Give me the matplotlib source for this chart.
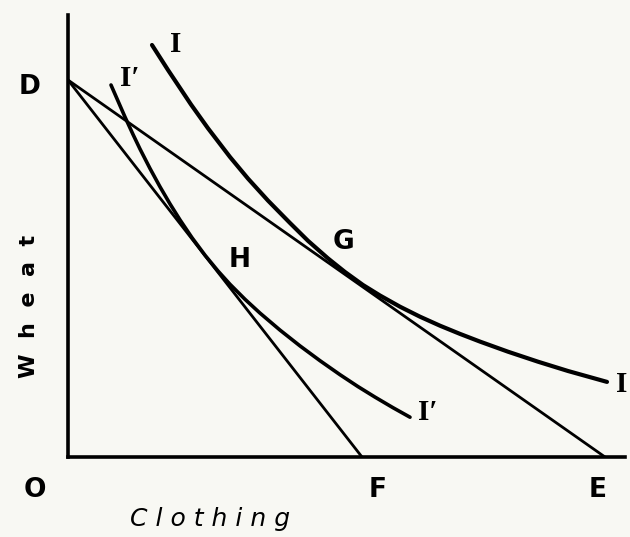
import matplotlib.pyplot as plt

# budget lines: D on the wheat axis, E and F on the clothing axis
d_wheat = 377
e_clothing = 537
f_clothing = 294

# indifference curve I (tangent to DE at G)
i_x = [84, 100, 123, 140, 162, 180, 200, 222, 240, 260, 277, 295, 312, 332,
       352, 372, 392, 412, 440, 470, 500, 539]
i_y = [412, 387, 352.5, 328.7, 300, 278.4, 256.4, 234, 216.2, 198.6, 185, 172,
       161.5, 150.3, 140.3, 131.3, 123.1, 115.4, 105.3, 95.3, 86, 75.1]

# indifference curve I' (tangent to DF at H)
ip_x = [43, 50, 57, 65, 72, 82, 92, 102, 112, 124, 137, 150, 162, 177, 192,
        212, 232, 252, 272, 290, 307, 325, 342]
ip_y = [372, 356, 340, 322.6, 308, 288.5, 270.2, 253.1, 237.1, 219.3, 201.8,
        186, 172.7, 157.7, 143.9, 126.9, 111.1, 96.3, 82.3, 70.4, 59.9, 49.3, 39.8]

bg = "#f8f8f3"
fig = plt.figure(figsize=(6.3, 5.37), dpi=100, facecolor=bg)
ax = fig.add_axes([68 / 630, 80 / 537, 557 / 630, 442 / 537])
ax.set_facecolor(bg)
ax.set_xlim(0, 557)
ax.set_ylim(0, 442)

for side in ["top", "right"]:
    ax.spines[side].set_visible(False)
for side in ["left", "bottom"]:
    ax.spines[side].set_linewidth(2.6)
ax.set_xticks([])
ax.set_yticks([])

ax.plot([0, e_clothing], [d_wheat, 0], color="black", lw=2.0, solid_capstyle="round")
ax.plot([0, f_clothing], [d_wheat, 0], color="black", lw=2.0, solid_capstyle="round")
ax.plot(i_x, i_y, color="black", lw=3.0, solid_capstyle="round", solid_joinstyle="round")
ax.plot(ip_x, ip_y, color="black", lw=2.6, solid_capstyle="round", solid_joinstyle="round")

sans = dict(family="DejaVu Sans", fontweight="bold", fontsize=19, ha="center", va="center")
ax.text(-38, 370, "D", clip_on=False, **sans)
ax.text(-33, -33, "O", clip_on=False, **sans)
ax.text(310, -33, "F", clip_on=False, **sans)
ax.text(530, -33, "E", clip_on=False, **sans)
ax.text(275, 215, "G", **sans)
ax.text(172, 197, "H", **sans)

serif = dict(family="Liberation Serif", fontweight="bold", fontsize=21, ha="center", va="center")
ax.text(108, 412, "I", **serif)
ax.text(62, 379, "I′", **serif)
ax.text(360, 45, "I′", **serif)
ax.text(548, 72, "I", clip_on=False, **dict(serif, ha="left"))

ax.text(-39, 151, "W  h  e  a  t", rotation=90, fontsize=16, fontweight="bold",
        ha="center", va="center", clip_on=False)
ax.text(142, -62, "C l o t h i n g", fontsize=18, fontstyle="italic",
        ha="center", va="center", clip_on=False)

fig.savefig("out.png", dpi=100, facecolor=bg)
